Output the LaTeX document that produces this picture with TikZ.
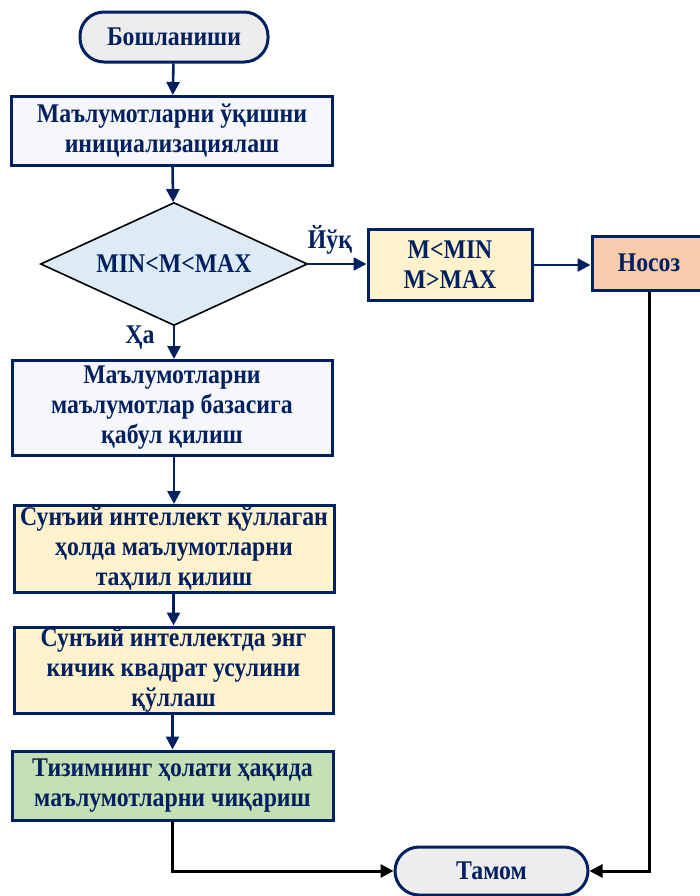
\documentclass[tikz,border=0pt]{standalone}
\usepackage{fontspec}
\setmainfont[FakeStretch=0.88]{Liberation Serif}
\usetikzlibrary{shapes.geometric,arrows.meta}
\definecolor{navy}{HTML}{002060}
\definecolor{termgray}{HTML}{EDEDED}
\definecolor{paleblue}{HTML}{F6F7FB}
\definecolor{diamblue}{HTML}{DDEBF7}
\definecolor{paleyellow}{HTML}{FFF2CC}
\definecolor{peach}{HTML}{F8CBAD}
\definecolor{palegreen}{HTML}{C5E0B4}
\begin{document}
\begin{tikzpicture}[x=0.5pt,y=-0.5pt,
  txt/.style={text=navy,font=\fontsize{13.5}{15}\selectfont\bfseries,align=center},
  term/.style={txt,draw=navy,line width=1.5pt,rounded corners=12pt,inner sep=0pt},
  procbox/.style={txt,draw=navy,line width=1.5pt,inner sep=0pt},
  decbox/.style={txt,draw=black,line width=0.8pt,shape=diamond,aspect=2.17,inner sep=0pt,fill=diamblue},
  arr/.style={-{Triangle[length=6.5pt,width=6.5pt]},draw=navy,line width=1.3pt},
  blackarr/.style={-{Triangle[length=6.5pt,width=6.5pt]},draw=black,line width=1.5pt}]
\useasboundingbox (0,0) rectangle (700,896);
\node[term,fill=termgray,minimum width=94pt,minimum height=25pt](start) at (174,37){Бошланиши};
\node[procbox,fill=paleblue,minimum width=160.5pt,minimum height=34.5pt](init) at (172,131){Маълумотларни ўқишни\\инициализациялаш};
\node[decbox,minimum width=133.5pt,minimum height=61.5pt](check) at (174,264){MIN<M<MAX};
\node[procbox,fill=paleyellow,minimum width=82pt,minimum height=35.5pt](range) at (450,265){M<MIN\\M>MAX};
\node[procbox,fill=peach,minimum width=57pt,minimum height=27pt](fault) at (649,263){Носоз};
\node[procbox,fill=paleblue,minimum width=160pt,minimum height=47.5pt](store) at (172,408){Маълумотларни\\маълумотлар базасига\\қабул қилиш};
\node[procbox,fill=paleyellow,minimum width=160pt,minimum height=43.5pt](ai) at (174,549){Сунъий интеллект қўллаган\\ҳолда маълумотларни\\таҳлил қилиш};
\node[procbox,fill=paleyellow,minimum width=159.5pt,minimum height=43pt](lsq) at (173.5,670){Сунъий интеллектда энг\\кичик квадрат усулини\\қўллаш};
\node[procbox,fill=palegreen,minimum width=160.5pt,minimum height=34.5pt](output) at (172.5,785.5){Тизимнинг ҳолати ҳақида\\маълумотларни чиқариш};
\node[term,fill=termgray,minimum width=96.5pt,minimum height=24pt](finish) at (491.5,871){Тамом};
\node[txt](no) at (330,240){Йўқ};
\node[txt](yes) at (140,338){Ҳа};
\draw[arr] (start) -- (init);
\draw[arr] (init) -- (check);
\draw[arr] (check) -- (store.north -| check.south);
\draw[arr] (check.east) -- (range.west |- check.east);
\draw[arr] (range.east) -- (fault.west |- range.east);
\draw[arr] (store.south -| ai.north) -- (ai);
\draw[arr] (ai.south -| lsq.north) -- (lsq);
\draw[arr] (lsq.south -| output.north) -- (output);
\draw[blackarr] (output.south) |- (finish.west);
\draw[blackarr] (fault.south) |- (finish.east);
\end{tikzpicture}
\end{document}
